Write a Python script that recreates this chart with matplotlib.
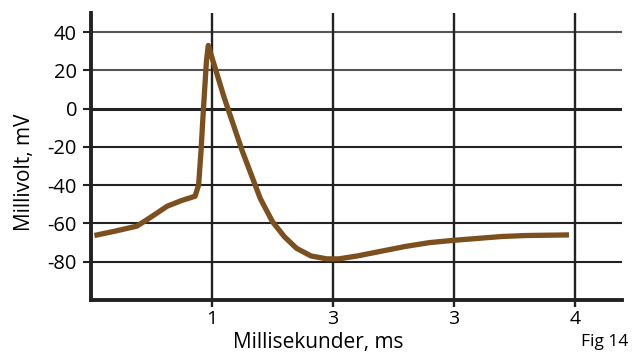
import numpy as np
import matplotlib.pyplot as plt

plt.rcParams['font.family'] = ['Open Sans', 'DejaVu Sans']
plt.rcParams['axes.unicode_minus'] = False

# Aktionspotential, afläst fra figuren
tid = [0.05, 0.2, 0.38, 0.5, 0.63, 0.75, 0.86, 0.89, 0.91, 0.93, 0.94, 0.955, 0.97,
       1.1, 1.25, 1.4, 1.5, 1.6, 1.7, 1.82, 1.95, 2.05, 2.2, 2.4, 2.6, 2.8, 3.0,
       3.2, 3.4, 3.6, 3.93]
spaending = [-66, -64, -61.4, -56.5, -51, -48, -45.8, -40, -22, 0, 10, 25, 33,
             6, -22, -47, -59, -67, -73, -77, -78.5, -78.5, -77, -74.5, -72, -70, -68.8,
             -67.8, -66.8, -66.3, -66]

y_ticks = [40, 20, 0, -20, -40, -60, -80]
x_ticks = [1, 2, 3, 4]
x_labels = ['1', '3', '3', '4']

fig = plt.figure(figsize=(6.36, 3.54), dpi=100)
ax = fig.add_axes([0.143, 0.1525, 0.835, 0.811])

for y in y_ticks:
    lw = 2.2 if y == 0 else 1.5
    col = '#555555' if y > 0 else '#222222'
    ax.axhline(y, color=col, lw=lw, zorder=1)
for x in x_ticks:
    ax.axvline(x, color='#222222', lw=1.7, zorder=1)

ax.plot(tid, spaending, color='#7B4F1E', lw=3.8, solid_joinstyle='round', zorder=3)

ax.set_xlim(0, 4.39)
ax.set_ylim(-100, 50)
ax.set_yticks(y_ticks)
ax.set_xticks(x_ticks)
ax.set_xticklabels(x_labels)
ax.tick_params(axis='y', length=6, width=1.5, color='#222222', labelsize=14.5, pad=4)
ax.tick_params(axis='x', length=5, width=1.7, color='#222222', labelsize=14, pad=2)

for side in ['top', 'right']:
    ax.spines[side].set_visible(False)
for side in ['left', 'bottom']:
    ax.spines[side].set_linewidth(2.8)
    ax.spines[side].set_color('#222222')

fig.text(0.039, 0.514, 'Millivolt, mV', fontsize=15, rotation=90, ha='center', va='center')
fig.text(0.5, 0.004, 'Millisekunder, ms', fontsize=15, ha='center', va='bottom')
fig.text(0.95, 0.035, 'Fig 14', fontsize=12.5, ha='center', va='center')

fig.savefig('out.png', dpi=100)
